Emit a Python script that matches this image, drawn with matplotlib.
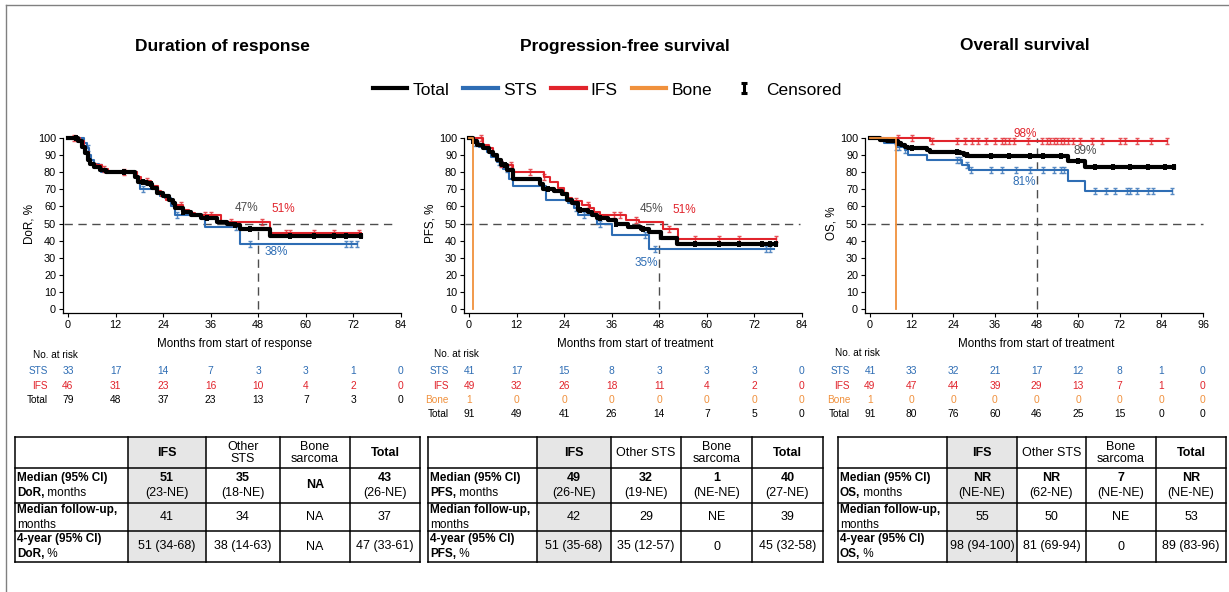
import numpy as np
import matplotlib.pyplot as plt
import matplotlib.transforms as mtransforms
from matplotlib.path import Path
from matplotlib.patches import Rectangle
from matplotlib.lines import Line2D

plt.rcParams['font.family'] = ['Liberation Sans', 'DejaVu Sans']

W, H = 1229, 592
blue = '#2e6db4'
red = '#e1242c'
orange = '#f0913d'
grey = '#4d4d4d'

# ---------------- Duration of response (months, %)
dor_total_t = [0, 2.5, 3.5, 4.2, 5, 5.5, 6.5, 8, 9.5, 17, 17.7, 20, 21.2, 22.5, 24, 25.5, 26.5, 27, 29, 31, 33.5, 37.5, 40, 42, 43.5, 51, 74]
dor_total_s = [100, 98, 95, 91, 87, 85, 83, 81, 80, 77, 74, 73, 71, 68, 66, 64, 62, 59, 57, 55, 53, 51, 50, 49, 46.5, 42.5, 42.5]
dor_total_c = [2, 14, 19, 21, 29, 35, 42, 46, 56, 62, 67, 70, 74]
dor_ifs_t = [0, 3, 4, 4.6, 5.2, 5.6, 7, 8.5, 10, 17.5, 18.5, 21, 22.8, 23.5, 24.8, 26.5, 27.3, 29, 30.5, 32, 38.5, 51, 74]
dor_ifs_s = [100, 98, 95, 92, 88, 85, 84, 82, 80, 77, 75, 72, 69, 66, 64, 62, 61, 58, 56, 55, 51, 44.5, 44.5]
dor_ifs_c = [1.5, 9, 14, 20, 28.5, 34.5, 36, 41, 49, 55, 56, 62, 67, 73.5]
dor_sts_t = [0, 4, 4.8, 5.3, 5.8, 6.5, 7.8, 8.2, 17.5, 18.2, 22.5, 23.3, 24.5, 26, 27, 34.5, 43.3, 73]
dor_sts_s = [100, 97, 94, 90, 87, 85, 83, 80, 76, 70, 69, 66, 65, 60, 55, 48, 38, 38]
dor_sts_c = [5, 8, 19, 27.5, 42.5, 46, 70, 71.5, 73]
dor_risk_sts = [33, 17, 14, 7, 3, 3, 1, 0]
dor_risk_ifs = [46, 31, 23, 16, 10, 4, 2, 0]
dor_risk_total = [79, 48, 37, 23, 13, 7, 3, 0]

# ---------------- Progression-free survival
pfs_total_t = [0, 1, 2, 3.5, 5, 6, 7, 8, 9.5, 11, 18, 18.7, 21.5, 23.5, 24.8, 26, 27.5, 30, 31, 32.3, 35, 37, 40, 43.5, 45.5, 48.5, 52.5, 77.5]
pfs_total_s = [100, 98, 96, 94, 92, 90, 87, 84, 81, 76, 73, 70, 69, 67, 64, 62, 58, 57, 55, 53, 52, 50, 48, 47, 45, 41.5, 38, 38]
pfs_total_c = [1, 9, 20, 28, 33, 37, 44, 57, 63, 68, 74, 76, 77.5]
pfs_ifs_t = [0, 3.5, 5, 6, 7, 8, 9.5, 11, 19, 20.5, 22.5, 24, 25, 26, 28.5, 30.5, 31.5, 33, 39.5, 43, 49, 52.7, 77.5]
pfs_ifs_s = [100, 96, 94, 90, 87, 85, 84, 80, 77, 74, 71, 68, 65, 63, 61, 59, 57, 55, 52, 51, 47, 41, 41]
pfs_ifs_c = [3, 8, 10.5, 15.5, 19, 27, 30, 36.5, 38, 42, 50.5, 57, 63, 68, 77.5]
pfs_sts_t = [0, 1, 2.5, 4.5, 5.5, 7, 8.5, 10, 11, 19.3, 25, 26.5, 27.5, 32.3, 36, 45.3, 77]
pfs_sts_s = [100, 97, 95, 92, 89, 86, 82, 76, 72, 64, 62, 59, 55, 50, 43, 35, 35]
pfs_sts_c = [1.5, 7.5, 9.5, 27, 29, 33, 44.5, 47, 75, 76]
pfs_bone_t = [0, 1.1]
pfs_bone_s = [100, 0]
pfs_risk_sts = [41, 17, 15, 8, 3, 3, 3, 0]
pfs_risk_ifs = [49, 32, 26, 18, 11, 4, 2, 0]
pfs_risk_bone = [1, 0, 0, 0, 0, 0, 0, 0]
pfs_risk_total = [91, 49, 41, 26, 14, 7, 5, 0]

# ---------------- Overall survival
os_total_t = [0, 3, 5, 8, 9, 10, 11, 16.3, 17.3, 26, 27, 28.3, 57, 62, 87.5]
os_total_s = [100, 99, 98, 97, 96, 95, 94, 93, 92, 91, 90, 89.3, 86.5, 83, 83]
os_total_c = [8, 12, 25, 28, 35, 40, 46, 50, 55, 60, 65, 70, 75, 80, 85, 87.5]
os_ifs_t = [0, 17.3, 85.5]
os_ifs_s = [100, 98, 98]
os_ifs_c = [8, 12, 18, 25, 27.5, 29.5, 31, 33.5, 36, 38, 39, 40, 41.5, 45.5, 49.5, 51, 52, 53, 54, 55, 56,
            57, 58.5, 60.5, 64, 67, 72, 73.5, 77, 81, 85.5]
os_sts_t = [0, 4, 7.5, 10, 11, 16.5, 26.5, 28.5, 57, 62, 87]
os_sts_s = [100, 97, 95, 93, 90, 87, 84, 81, 75, 69, 69]
os_sts_c = [7.5, 8.5, 10, 25, 26, 28, 29, 35, 38, 42, 46, 50, 53, 55, 56, 65, 68, 70.5, 74, 75, 77, 80, 81.5, 87]
os_bone_t = [0, 7.4]
os_bone_s = [100, 0]
os_risk_sts = [41, 33, 32, 21, 17, 12, 8, 1, 0]
os_risk_ifs = [49, 47, 44, 39, 29, 13, 7, 1, 0]
os_risk_bone = [1, 0, 0, 0, 0, 0, 0, 0, 0]
os_risk_total = [91, 80, 76, 60, 46, 25, 15, 0, 0]

# ---------------- summary tables
dor_head = ['IFS', 'Other\nSTS', 'Bone\nsarcoma', 'Total']
dor_med = ['51', '35', 'NA', '43']
dor_med_ci = ['(23-NE)', '(18-NE)', '', '(26-NE)']
dor_fup = ['41', '34', 'NA', '37']
dor_4yr = ['51 (34-68)', '38 (14-63)', 'NA', '47 (33-61)']

pfs_head = ['IFS', 'Other STS', 'Bone\nsarcoma', 'Total']
pfs_med = ['49', '32', '1', '40']
pfs_med_ci = ['(26-NE)', '(19-NE)', '(NE-NE)', '(27-NE)']
pfs_fup = ['42', '29', 'NE', '39']
pfs_4yr = ['51 (35-68)', '35 (12-57)', '0', '45 (32-58)']

os_head = ['IFS', 'Other STS', 'Bone\nsarcoma', 'Total']
os_med = ['NR', 'NR', '7', 'NR']
os_med_ci = ['(NE-NE)', '(62-NE)', '(NE-NE)', '(NE-NE)']
os_fup = ['55', '50', 'NE', '53']
os_4yr = ['98 (94-100)', '81 (69-94)', '0', '89 (83-96)']

# censor tick, I-shaped
cens = Path([(-0.7, 1), (0.7, 1), (0, 1), (0, -1), (-0.7, -1), (0.7, -1)],
            [Path.MOVETO, Path.LINETO, Path.MOVETO, Path.LINETO, Path.MOVETO, Path.LINETO])


def surv_at(t, s, x):
    idx = np.searchsorted(t, x, side='right') - 1
    return np.asarray(s)[np.clip(idx, 0, len(s) - 1)]


def km(ax, t, s, c, color, lw, ms, mew, z, alpha=1.0):
    ax.step(t, s, where='post', color=color, lw=lw, zorder=z, clip_on=False)
    if c:
        ax.plot(c, surv_at(t, s, c), ls='none', marker=cens, ms=ms, mew=mew,
                mec=color, mfc='none', zorder=z, clip_on=False, alpha=alpha)


fig = plt.figure(figsize=(W / 100, H / 100), dpi=100)
ov = fig.add_axes([0, 0, 1, 1], zorder=-1)
ov.set_xlim(0, W)
ov.set_ylim(H, 0)
ov.axis('off')
ov.plot([6, 6], [5, H], color='#808080', lw=1)
ov.plot([6, W], [5, 5], color='#808080', lw=1)


def make_axes(x0, x1, xmax, ylab, xlab):
    ax = fig.add_axes([x0 / W, 1 - 309 / H, (x1 - x0) / W, 171 / H])
    ax.set_xlim(0, xmax)
    ax.set_ylim(0, 100)
    ax.set_xticks(range(0, xmax + 1, 12))
    ax.set_yticks(range(0, 101, 10))
    for k in ['top', 'right']:
        ax.spines[k].set_visible(False)
    ax.spines['left'].set_position(('outward', 3.6))
    ax.spines['bottom'].set_position(('outward', 2.9))
    ax.spines['left'].set_bounds(-2.3, 100)
    ax.spines['bottom'].set_bounds(-xmax * 5 / (x1 - x0), xmax)
    for k in ['left', 'bottom']:
        ax.spines[k].set_linewidth(0.9)
    ax.tick_params(labelsize=7.8, length=3, width=0.8, pad=2)
    ax.patch.set_visible(False)
    ax.set_ylabel(ylab, fontsize=8.4)
    ax.yaxis.set_label_coords(-0.099, 0.5)
    ax.set_xlabel(xlab, fontsize=8.4, va='center')
    ax.xaxis.set_label_coords(0.5, -(344 - 309) / 171)
    return ax


def refs(ax, xend, yv):
    ax.plot([-1, xend], [50, 50], color=grey, lw=1, dashes=(6, 4), zorder=1, clip_on=False)
    ax.plot([48, 48], [0, yv], color=grey, lw=1, dashes=(6, 4), zorder=1, clip_on=False)


def risk(ax, xs, rows, lab_right, top_y):
    tr = mtransforms.blended_transform_factory(ax.transData, fig.transFigure)
    fig.text((lab_right - 15) / W, 1 - top_y / H, 'No. at risk', fontsize=7.2, ha='left', va='center')
    ys = [371, 386, 400, 414]
    for (name, vals, col), y in zip(rows, ys):
        fig.text(lab_right / W, 1 - y / H, name, fontsize=7.2, color=col, ha='right', va='center')
        for x, v in zip(xs, vals):
            ax.text(x, 1 - y / H, str(v), transform=tr, fontsize=7.4, color=col, ha='center', va='center')


def draw_table(xe, head, med, med_ci, fup, yr4, word):
    ye = [437, 468, 503, 531, 562]
    fs = 9
    fl = 8.5
    ov.add_patch(Rectangle((xe[1], ye[0]), xe[2] - xe[1], ye[-1] - ye[0],
                           facecolor='#e6e6e6', edgecolor='none'))
    for x in xe:
        ov.plot([x, x], [ye[0], ye[-1]], color='black', lw=1.1, solid_capstyle='projecting')
    for y in ye:
        ov.plot([xe[0], xe[-1]], [y, y], color='black', lw=1.1, solid_capstyle='projecting')
    cx = [(xe[i] + xe[i + 1]) / 2 for i in range(1, 5)]
    cy = [(ye[i] + ye[i + 1]) / 2 for i in range(4)]
    d = 7.5
    for i, h in enumerate(head):
        bold = i in (0, 3)
        ov.text(cx[i], cy[0], h, fontsize=fs, ha='center', va='center', linespacing=1.0,
                fontweight='bold' if bold else 'normal')
    for i in range(4):
        if med_ci[i]:
            ov.text(cx[i], cy[1] - d, med[i], fontsize=fs, fontweight='bold', ha='center', va='center')
            ov.text(cx[i], cy[1] + d, med_ci[i], fontsize=fs, ha='center', va='center')
        else:
            ov.text(cx[i], cy[1], med[i], fontsize=fs, fontweight='bold', ha='center', va='center')
        ov.text(cx[i], cy[2], fup[i], fontsize=fs, ha='center', va='center')
        ov.text(cx[i], cy[3], yr4[i], fontsize=fs, ha='center', va='center')
    lx = xe[0] + 2
    ov.text(lx, cy[1] - d, 'Median (95% CI)', fontsize=fl, fontweight='bold', ha='left', va='center')
    b = ov.text(lx, cy[1] + d, word + ',', fontsize=fl, fontweight='bold', ha='left', va='center')
    ov.annotate(' months', xy=(1, 0.5), xycoords=b, fontsize=fl, ha='left', va='center')
    ov.text(lx, cy[2] - d, 'Median follow-up,', fontsize=fl, fontweight='bold', ha='left', va='center')
    ov.text(lx, cy[2] + d, 'months', fontsize=fl, ha='left', va='center')
    ov.text(lx, cy[3] - d, '4-year (95% CI)', fontsize=fl, fontweight='bold', ha='left', va='center')
    b = ov.text(lx, cy[3] + d, word + ',', fontsize=fl, fontweight='bold', ha='left', va='center')
    ov.annotate(' %', xy=(1, 0.5), xycoords=b, fontsize=fl, ha='left', va='center')


# ---- panel 1
ax1 = make_axes(68, 401, 84, 'DoR, %', 'Months from start of response')
refs(ax1, 83, 46.5)
km(ax1, dor_sts_t, dor_sts_s, dor_sts_c, blue, 1.5, 4.5, 1.0, 3, 0.8)
km(ax1, dor_ifs_t, dor_ifs_s, dor_ifs_c, red, 1.5, 4.5, 1.0, 4, 0.8)
km(ax1, dor_total_t, dor_total_s, dor_total_c, 'black', 3, 3.5, 1.4, 5)
ax1.text(45, 59, '47%', fontsize=8.5, color=grey, ha='center', va='center')
ax1.text(54.3, 58.6, '51%', fontsize=8.5, color=red, ha='center', va='center')
ax1.text(52.5, 33.6, '38%', fontsize=8.5, color=blue, ha='center', va='center')
risk(ax1, range(0, 85, 12), [('STS', dor_risk_sts, blue), ('IFS', dor_risk_ifs, red),
                             ('Total', dor_risk_total, 'black')], 48, 355)
draw_table([15, 128, 206, 280, 350, 420], dor_head, dor_med, dor_med_ci, dor_fup, dor_4yr, 'DoR')

# ---- panel 2
ax2 = make_axes(469, 802, 84, 'PFS, %', 'Months from start of treatment')
refs(ax2, 83.5, 45)
km(ax2, pfs_sts_t, pfs_sts_s, pfs_sts_c, blue, 1.5, 4.5, 1.0, 3, 0.8)
km(ax2, pfs_ifs_t, pfs_ifs_s, pfs_ifs_c, red, 1.5, 4.5, 1.0, 4, 0.8)
km(ax2, pfs_total_t, pfs_total_s, pfs_total_c, 'black', 3, 3.5, 1.4, 5)
km(ax2, pfs_bone_t, pfs_bone_s, [], orange, 1.3, 5, 1.0, 6)
ax2.text(46, 58.4, '45%', fontsize=8.5, color=grey, ha='center', va='center')
ax2.text(54.3, 58, '51%', fontsize=8.5, color=red, ha='center', va='center')
ax2.text(44.6, 27, '35%', fontsize=8.5, color=blue, ha='center', va='center')
risk(ax2, range(0, 85, 12), [('STS', pfs_risk_sts, blue), ('IFS', pfs_risk_ifs, red),
                             ('Bone', pfs_risk_bone, orange), ('Total', pfs_risk_total, 'black')], 449, 354)
draw_table([428, 537, 611, 681, 752, 823], pfs_head, pfs_med, pfs_med_ci, pfs_fup, pfs_4yr, 'PFS')

# ---- panel 3
ax3 = make_axes(870, 1203, 96, 'OS, %', 'Months from start of treatment')
refs(ax3, 96, 100)
km(ax3, os_sts_t, os_sts_s, os_sts_c, blue, 1.5, 4.5, 1.0, 3, 0.8)
km(ax3, os_ifs_t, os_ifs_s, os_ifs_c, red, 1.5, 4.5, 1.0, 4, 0.8)
km(ax3, os_total_t, os_total_s, os_total_c, 'black', 3, 3.5, 1.4, 5)
km(ax3, os_bone_t, os_bone_s, [], orange, 1.3, 5, 1.0, 6)
ax3.text(44.8, 102.5, '98%', fontsize=8.5, color=red, ha='center', va='center')
ax3.text(61.9, 92.2, '89%', fontsize=8.5, color=grey, ha='center', va='center')
ax3.text(44.6, 74, '81%', fontsize=8.5, color=blue, ha='center', va='center')
risk(ax3, range(0, 97, 12), [('STS', os_risk_sts, blue), ('IFS', os_risk_ifs, red),
                             ('Bone', os_risk_bone, orange), ('Total', os_risk_total, 'black')], 850, 353)
draw_table([838, 947, 1017, 1086, 1156, 1226], os_head, os_med, os_med_ci, os_fup, os_4yr, 'OS')

# ---- titles and legend
for x, y, t in [(222, 47, 'Duration of response'), (625, 47, 'Progression-free survival'),
                (1025, 45, 'Overall survival')]:
    fig.text(x / W, 1 - y / H, t, fontsize=12.5, fontweight='bold', ha='center', va='center')

handles = [Line2D([], [], color='black', lw=3), Line2D([], [], color=blue, lw=3),
           Line2D([], [], color=red, lw=3), Line2D([], [], color=orange, lw=3),
           Line2D([], [], ls='none', marker=cens, ms=7, mew=2.2, mec='black', mfc='none')]
fig.legend(handles, ['Total', 'STS', 'IFS', 'Bone', 'Censored'], loc='center',
           bbox_to_anchor=(607 / W, 1 - 90 / H), ncol=5, frameon=False, fontsize=12.5,
           handlelength=2.0, handletextpad=0.3, columnspacing=0.8)

fig.savefig('out.png', dpi=100)
